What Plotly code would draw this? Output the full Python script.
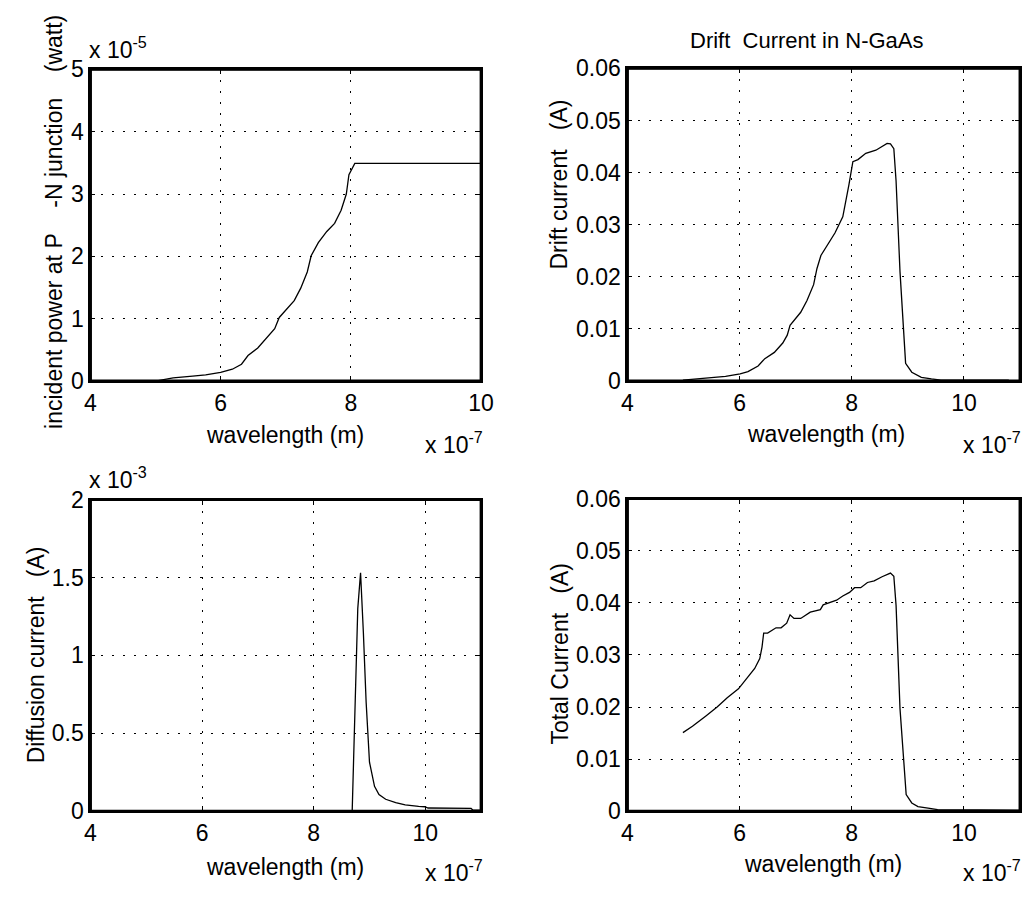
import plotly.graph_objects as go

# ---------------- data (wavelength in units of 1e-7 m) ----------------
# incident power at P-N junction (x 1e-5 W)
wl_power = [5.0, 5.27, 5.57, 5.77, 6.0, 6.18, 6.32, 6.42, 6.57, 6.72, 6.83, 6.9, 7.03, 7.13,
            7.23, 7.33, 7.39, 7.5, 7.63, 7.75, 7.85, 7.93, 7.97, 8.06, 9.0, 10.0, 11.0]
power = [0.0, 0.05, 0.08, 0.1, 0.14, 0.19, 0.27, 0.41, 0.53, 0.71, 0.84, 1.02, 1.18, 1.29,
         1.49, 1.75, 2.01, 2.22, 2.40, 2.53, 2.74, 3.0, 3.31, 3.49, 3.49, 3.49, 3.49]

# drift current in N-GaAs (A)
wl_drift = [4.99, 5.51, 5.75, 6.01, 6.15, 6.33, 6.45, 6.62, 6.77, 6.85, 6.9, 7.09, 7.2, 7.32,
            7.38, 7.45, 7.55, 7.7, 7.84, 7.9, 7.95, 8.02, 8.11, 8.25, 8.43, 8.63, 8.69, 8.75,
            8.79, 8.86, 8.96, 9.07, 9.24, 9.42, 9.59, 10.8]
drift = [0.0002, 0.0006, 0.0009, 0.0014, 0.0018, 0.0029, 0.0043, 0.0055, 0.0073, 0.0088,
         0.0107, 0.0132, 0.0154, 0.0185, 0.0216, 0.0241, 0.0259, 0.0284, 0.0315, 0.0346,
         0.0377, 0.0421, 0.0425, 0.0437, 0.0443, 0.0456, 0.0455, 0.0446, 0.0384, 0.021,
         0.0034, 0.0017, 0.0007, 0.0004, 0.0002, 0.0002]

# diffusion current (x 1e-3 A)
wl_diff = [5.0, 8.69, 8.79, 8.84, 8.89, 8.94, 9.0, 9.04, 9.09, 9.17, 9.29, 9.47, 9.64, 9.88,
           9.99, 10.05, 10.82, 10.85, 11.0]
diff = [0.0, 0.0, 1.30, 1.53, 1.15, 0.70, 0.315, 0.25, 0.16, 0.108, 0.077, 0.056, 0.041,
        0.031, 0.029, 0.021, 0.019, 0.008, 0.008]

# total current (A)
wl_total = [4.99, 5.16, 5.40, 5.60, 5.78, 5.98, 6.10, 6.27, 6.36, 6.40, 6.43, 6.50, 6.65,
            6.74, 6.84, 6.90, 6.97, 7.09, 7.26, 7.44, 7.49, 7.61, 7.73, 7.84, 7.96, 8.05,
            8.16, 8.28, 8.40, 8.54, 8.69, 8.75, 8.79, 8.86, 8.97, 9.07, 9.18, 9.36, 9.53, 11.0]
total = [0.0151, 0.0163, 0.0183, 0.0200, 0.0218, 0.0235, 0.0251, 0.0274, 0.0293, 0.0315,
         0.0342, 0.0342, 0.0352, 0.0352, 0.0361, 0.0377, 0.0370, 0.0370, 0.0382, 0.0387,
         0.0396, 0.0401, 0.0405, 0.0413, 0.0420, 0.0429, 0.0429, 0.0439, 0.0442, 0.0450,
         0.0457, 0.0451, 0.0395, 0.0197, 0.0032, 0.0016, 0.0009, 0.0006, 0.0003, 0.0002]

x_dtick = 2
y_dticks = {1: 1, 2: 0.01, 3: 0.5, 4: 0.01}
xranges = {1: [4, 10], 2: [4, 11], 3: [4, 11], 4: [4, 11]}
yranges = {1: [0, 5], 2: [0, 0.06], 3: [0, 2], 4: [0, 0.06]}

# ---------------- layout helpers ----------------
W, H = 1035, 901
FONT = "Arial, Liberation Sans, sans-serif"
TICK_SIZE = 23
LABEL_SIZE = 23


def fx(px):
    return px / W


def fy(py):
    return 1 - py / H


# plot boxes in pixels: (left, right, top, bottom)
boxes = {
    1: (86, 484, 58, 379),
    2: (633, 1033, 57, 379),
    3: (86, 484, 501, 822),
    4: (633, 1033, 500, 822),
}

fig = go.Figure()
series = [(1, wl_power, power), (2, wl_drift, drift), (3, wl_diff, diff), (4, wl_total, total)]
for i, xs, ys in series:
    xa = "x" if i == 1 else f"x{i}"
    ya = "y" if i == 1 else f"y{i}"
    fig.add_trace(go.Scatter(
        x=xs, y=ys, mode="lines", line=dict(color="black", width=1.3),
        xaxis=xa, yaxis=ya, showlegend=False, hoverinfo="skip",
    ))
    # axes box outline, traced along the axis range limits
    x0, x1 = xranges[i]
    y0, y1 = yranges[i]
    fig.add_trace(go.Scatter(
        x=[x0, x1, x1, x0, x0], y=[y0, y0, y1, y1, y0], mode="lines",
        line=dict(color="black", width=3), xaxis=xa, yaxis=ya,
        showlegend=False, hoverinfo="skip", cliponaxis=False,
    ))

common = dict(
    showline=True, linecolor="black", linewidth=2, mirror="ticks",
    ticks="inside", ticklen=5, tickwidth=1, tickcolor="black",
    showgrid=True, gridcolor="black", gridwidth=1, griddash="2px,9px",
    zeroline=False,
    tickfont=dict(family=FONT, size=TICK_SIZE, color="black"),
)

layout = {}
shapes = []
for i, (l, r, t, b) in boxes.items():
    xk = "xaxis" if i == 1 else f"xaxis{i}"
    yk = "yaxis" if i == 1 else f"yaxis{i}"
    ya = "y" if i == 1 else f"y{i}"
    xa = "x" if i == 1 else f"x{i}"
    layout[xk] = dict(common, domain=[fx(l), fx(r)], range=xranges[i], anchor=ya,
                      tick0=4, dtick=x_dtick)
    layout[yk] = dict(common, domain=[fy(b), fy(t)], range=yranges[i], anchor=xa,
                      tick0=0, dtick=y_dticks[i])
    shapes.append(dict(type="rect", xref="paper", yref="paper",
                       x0=fx(l), x1=fx(r), y0=fy(b), y1=fy(t),
                       line=dict(color="black", width=2)))

fig.update_layout(**layout)

annotations = []


def ann(text, px, py, size=LABEL_SIZE, angle=0, xanchor="center", yanchor="middle"):
    annotations.append(dict(
        text=text, x=fx(px), y=fy(py), xref="paper", yref="paper",
        xanchor=xanchor, yanchor=yanchor, showarrow=False, textangle=angle,
        font=dict(family=FONT, size=size, color="black"),
    ))


NB = "\u00a0"
# y labels
ann(f"incident power at P{NB*4}-N junction{NB*4}(watt)", 49, 215, angle=-90)
ann(f"Drift current{NB*3}(A)", 563, 177, angle=-90)
ann(f"Diffusion current{NB*3}(A)", 30, 661, angle=-90)
ann(f"Total Current{NB*3}(A)", 564, 660, angle=-90)
# x labels
ann("wavelength (m)", 284, 435)
ann("wavelength (m)", 835, 434)
ann("wavelength (m)", 284, 879)
ann("wavelength (m)", 832, 876)
# exponent labels
ann("x 10<sup>-7</sup>", 425, 460, xanchor="left", yanchor="bottom")
ann("x 10<sup>-7</sup>", 973, 460, xanchor="left", yanchor="bottom")
ann("x 10<sup>-7</sup>", 425, 901, xanchor="left", yanchor="bottom")
ann("x 10<sup>-7</sup>", 973, 901, xanchor="left", yanchor="bottom")
ann("x 10<sup>-5</sup>", 83, 54, xanchor="left", yanchor="bottom")
ann("x 10<sup>-3</sup>", 83, 496, xanchor="left", yanchor="bottom")
# title
ann(f"Drift{NB}{NB}Current in N-GaAs", 816, 28, size=22)

fig.update_layout(
    width=W, height=H,
    margin=dict(l=0, r=0, t=0, b=0),
    paper_bgcolor="white", plot_bgcolor="white",
    annotations=annotations,
    shapes=shapes,
)

fig.write_html("out.html")
